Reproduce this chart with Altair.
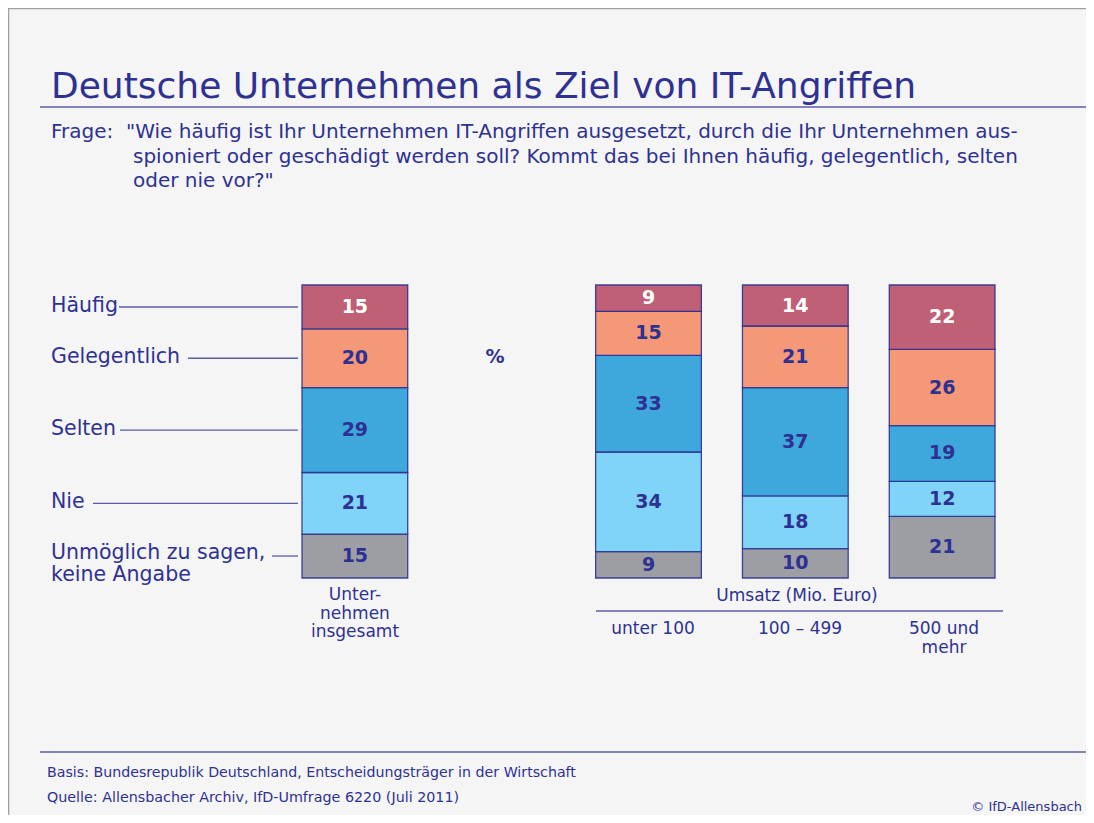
import altair as alt
import pandas as pd

# ---------------- data ----------------
groups = ["Unternehmen insgesamt", "_gap", "unter 100", "100 – 499", "500 und mehr"]
bar_groups = ["Unternehmen insgesamt", "unter 100", "100 – 499", "500 und mehr"]
answers = ["Häufig", "Gelegentlich", "Selten", "Nie", "Unmöglich zu sagen, keine Angabe"]
v_insgesamt = [15, 20, 29, 21, 15]
v_unter100 = [9, 15, 33, 34, 9]
v_100_499 = [14, 21, 37, 18, 10]
v_500plus = [22, 26, 19, 12, 21]
values = [v_insgesamt, v_unter100, v_100_499, v_500plus]

title_text = "Deutsche Unternehmen als Ziel von IT-Angriffen"
question_lines = [
    "\"Wie häufig ist Ihr Unternehmen IT-Angriffen ausgesetzt, durch die Ihr Unternehmen aus-",
    "spioniert oder geschädigt werden soll? Kommt das bei Ihnen häufig, gelegentlich, selten",
    "oder nie vor?\"",
]
footer_basis = "Basis: Bundesrepublik Deutschland, Entscheidungsträger in der Wirtschaft"
footer_quelle = "Quelle: Allensbacher Archiv, IfD-Umfrage 6220 (Juli 2011)"
copyright_text = "© IfD-Allensbach"

# ---------------- styles ----------------
NAVY = "#2e3192"
LINE = "#5b5ba8"
BG = "#f5f5f5"
FONT = "DejaVu Sans"
colors = ["#c06076", "#f59878", "#3ea8dc", "#80d4f8", "#9c9ea3"]
OX, OY = 8, 8  # page offset of the chart origin


def px(x):
    return x - OX


def py(y):
    return y - OY


# stacked table (bottom = last answer)
rows = []
for g, vals in zip(bar_groups, values):
    base = 0
    for a, v in reversed(list(zip(answers, vals))):
        rows.append({"group": g, "answer": a, "value": v, "y0": base, "y1": base + v,
                     "mid": base + v / 2})
        base += v
df = pd.DataFrame(rows)

xscale = alt.Scale(domain=groups, range=[px(302), px(995)], paddingInner=0.28, paddingOuter=0)
yscale = alt.Scale(domain=[0, 100], range=[py(578), py(285)])

bars = alt.Chart(df).mark_bar(stroke=NAVY, strokeWidth=1.3, strokeOpacity=0.9).encode(
    x=alt.X("group:N", scale=xscale, axis=None),
    y=alt.Y("y0:Q", scale=yscale, axis=None),
    y2="y1:Q",
    fill=alt.Fill("answer:N", scale=alt.Scale(domain=answers, range=colors), legend=None),
)

bar_text = alt.Chart(df).mark_text(font=FONT, fontSize=19, fontWeight="bold", baseline="middle").encode(
    x=alt.X("group:N", scale=xscale, axis=None),
    y=alt.Y("mid:Q", scale=yscale, axis=None),
    text="value:Q",
    color=alt.condition(alt.datum.answer == "Häufig", alt.value("white"), alt.value(NAVY)),
)

# left labels with leader lines (midpoints of first bar)
first = df[df.group == bar_groups[0]].copy()
leader_start = {"Häufig": 119, "Gelegentlich": 188, "Selten": 120, "Nie": 93,
                "Unmöglich zu sagen, keine Angabe": 272}
first["lx"] = first["answer"].map(lambda a: px(leader_start[a]))
first["lx2"] = px(298)
first["label"] = first["answer"].map(lambda a: a.replace(", ", ",\n") if "," in a else a)
first["multi"] = first["answer"].str.contains(",")

leaders = alt.Chart(first).mark_rule(color=LINE, strokeWidth=1.3).encode(
    x=alt.X("lx:Q", scale=None, axis=None),
    x2="lx2:Q",
    y=alt.Y("mid:Q", scale=yscale, axis=None),
)
left_labels = alt.Chart(first).transform_filter("!datum.multi").mark_text(
    font=FONT, fontSize=20.5, align="left", baseline="middle", color=NAVY, dy=-1
).encode(
    x=alt.value(px(51)),
    y=alt.Y("mid:Q", scale=yscale, axis=None),
    text=alt.Text("label:N"),
)
left_labels_multi = alt.Chart(first).transform_filter("datum.multi").mark_text(
    font=FONT, fontSize=20.5, align="left", baseline="middle", color=NAVY, lineBreak="\n",
    lineHeight=22, dy=-3
).encode(
    x=alt.value(px(51)),
    y=alt.Y("mid:Q", scale=yscale, axis=None),
    text=alt.Text("label:N"),
)

dummy = pd.DataFrame({"a": [0]})


def txt(text, x, y, size, weight="normal", align="left", color=NAVY, baseline="alphabetic", lh=None):
    kw = dict(font=FONT, fontSize=size, fontWeight=weight, align=align, color=color, baseline=baseline)
    if lh:
        kw["lineHeight"] = lh
        kw["lineBreak"] = "\n"
    return alt.Chart(dummy).mark_text(**kw).encode(
        x=alt.value(px(x)), y=alt.value(py(y)), text=alt.value(text)
    )


def rule(x1, x2, y1, y2, color=LINE, w=1.3):
    return alt.Chart(dummy).mark_rule(color=color, strokeWidth=w).encode(
        x=alt.value(px(x1)), x2=alt.value(px(x2)), y=alt.value(py(y1)), y2=alt.value(py(y2))
    )


layers = [
    rule(8, 8, 8, 830, color="#a0a0a4", w=2.5),
    rule(8, 1100, 8, 8, color="#a0a0a4", w=2.5),
    txt(title_text, 51, 98, 36),
    rule(40, 1100, 107, 107, w=1.5),
    txt("Frage:", 51, 138, 20),
    txt(question_lines[0], 126, 138, 20),
    txt(question_lines[1], 133, 163, 20),
    txt(question_lines[2], 133, 187, 20),
    bars, bar_text, leaders, left_labels, left_labels_multi,
    txt("%", 495, 363, 19, weight="bold", align="center"),
    txt("Unter-\nnehmen\ninsgesamt", 355, 600, 17, align="center", lh=18.5),
    txt("Umsatz (Mio. Euro)", 797, 601, 17, align="center"),
    rule(596, 1003, 611, 611, w=1.5),
    txt("unter 100", 653, 634, 17, align="center"),
    txt("100 – 499", 800, 634, 17, align="center"),
    txt("500 und\nmehr", 944, 634, 17, align="center", lh=18.5),
    rule(40, 1100, 752, 752, w=1.5),
    txt(footer_basis, 47, 777, 14.2),
    txt(footer_quelle, 47, 802, 14.3),
    txt(copyright_text, 1082, 811, 13, align="right"),
]

chart = alt.layer(*layers).properties(
    width=1078, height=807, background=BG, padding=0,
    autosize=alt.AutoSizeParams(type="none"),
).configure_view(stroke=None).resolve_scale(x="shared")

chart.save("out.html", embed_options={"renderer": "svg", "actions": False})
